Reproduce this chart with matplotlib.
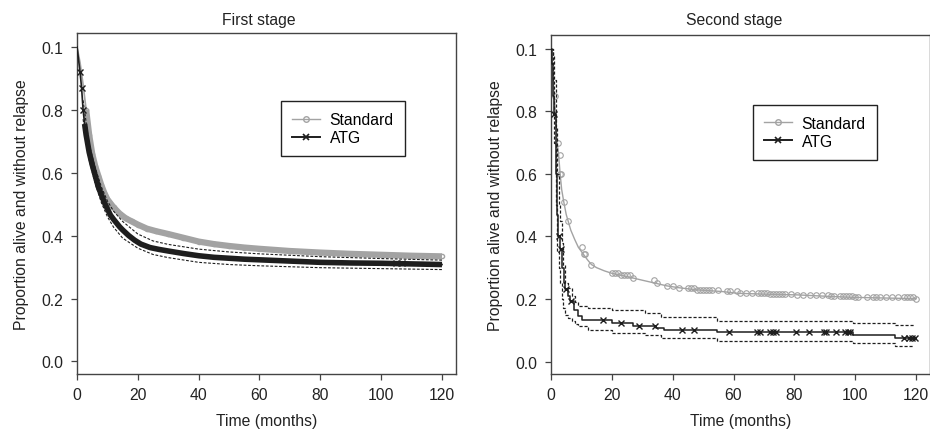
import numpy as np
import matplotlib
matplotlib.use('Agg')
import matplotlib.pyplot as plt
from matplotlib.lines import Line2D

plt.rcParams['font.family'] = ['Liberation Sans', 'DejaVu Sans']

GREY = '#a3a3a3'
DARK = '#1e1e1e'
FS = 11.3

# ---- first stage ----
t_std1 = [0, 1, 2, 3, 4, 5, 6, 7, 8, 9, 10, 12, 14, 16, 18, 20, 23, 26, 30, 35,
          40, 45, 50, 55, 60, 70, 80, 90, 100, 110, 120]
s_std1 = [1.0, 0.95, 0.88, 0.80, 0.72, 0.66, 0.62, 0.59, 0.56, 0.535, 0.515, 0.49,
          0.47, 0.455, 0.445, 0.435, 0.422, 0.414, 0.405, 0.393, 0.381, 0.373, 0.367,
          0.362, 0.358, 0.351, 0.346, 0.342, 0.339, 0.336, 0.334]

t_atg1 = [0, 0.5, 1, 1.5, 2, 2.5, 3, 4, 5, 6, 7, 8, 9, 10, 11, 12, 13, 14, 15, 17,
          19, 21, 24, 27, 30, 35, 40, 45, 50, 55, 60, 70, 80, 90, 100, 110, 120]
s_atg1 = [1.0, 0.96, 0.92, 0.87, 0.80, 0.755, 0.72, 0.665, 0.625, 0.59, 0.555, 0.53,
          0.505, 0.485, 0.465, 0.452, 0.44, 0.428, 0.418, 0.40, 0.385, 0.373, 0.362,
          0.356, 0.351, 0.343, 0.336, 0.331, 0.328, 0.325, 0.323, 0.319, 0.315, 0.313,
          0.312, 0.310, 0.308]

tb1 = [2, 4, 6, 8, 10, 12, 15, 20, 25, 30, 40, 50, 60, 80, 100, 120]
up_atg1 = [0.83, 0.69, 0.615, 0.555, 0.51, 0.478, 0.445, 0.405, 0.383, 0.372, 0.357,
           0.348, 0.342, 0.333, 0.327, 0.322]
lo_atg1 = [0.77, 0.64, 0.565, 0.505, 0.46, 0.427, 0.392, 0.36, 0.34, 0.33, 0.315,
           0.308, 0.304, 0.298, 0.295, 0.292]
cen_atg1 = [1.0, 1.5, 2.0, 105, 107]

# ---- second stage ----
t_std2 = [0, 0.5, 1.0, 1.5, 2.0, 2.5, 3.0, 3.5, 4.2, 5, 5.6, 6.5, 7.8, 9, 10.5, 12,
          13.3, 15, 17.5, 20, 23, 26.5, 30, 34.5, 38, 42, 48, 56, 61.5, 72, 81, 92,
          100, 120]
s_std2 = [1.0, 0.93, 0.85, 0.79, 0.70, 0.66, 0.60, 0.55, 0.51, 0.47, 0.45, 0.42, 0.39,
          0.365, 0.345, 0.325, 0.31, 0.30, 0.29, 0.282, 0.276, 0.268, 0.26, 0.25,
          0.242, 0.236, 0.229, 0.224, 0.218, 0.215, 0.213, 0.208, 0.205, 0.201]
cen_std2 = [1.4, 2.3, 2.8, 3.1, 3.3, 4.2, 5.6, 10.3, 10.8, 11.3, 13.3, 20, 21, 22, 23,
            24, 25, 26, 27, 34, 35, 38, 40, 42, 45, 46, 47, 48, 49, 50, 51, 52, 53,
            55, 58, 59, 61, 62, 64, 66, 68, 69, 70, 71, 72, 73, 74, 75, 76, 77, 79,
            81, 83, 85, 87, 89, 91, 92, 93, 95, 96, 97, 98, 99, 100, 101, 104, 106,
            107, 108, 110, 112, 114, 116, 117, 118, 119, 120]

t_atg2 = [0, 0.3, 0.6, 0.9, 1.5, 2.0, 2.4, 3.0, 3.6, 4.2, 4.6, 5.5, 6.2, 7.5, 9.0,
          10.1, 20, 27, 34.6, 37, 54.5, 99.4, 113, 120]
s_atg2 = [1.0, 0.95, 0.85, 0.79, 0.60, 0.47, 0.40, 0.36, 0.30, 0.25, 0.231, 0.21,
          0.194, 0.165, 0.146, 0.134, 0.123, 0.115, 0.108, 0.102, 0.0935, 0.085,
          0.075, 0.075]
cen_atg2 = [1.0, 2.6, 3.2, 4.9, 6.5, 17.1, 23.1, 28.8, 34.1, 43, 47, 58.4, 67.8,
            68.6, 72, 73, 74, 80.5, 84.9, 89.7, 90.3, 93.8, 96.8, 97.6, 98.2, 116,
            117.8, 118.7, 119.6]

tb2 = [0, 0.5, 1, 1.5, 2, 2.5, 3, 3.5, 4, 4.6, 5.5, 6.8, 8, 9, 12, 20, 31, 36, 54.5,
       99.4, 113, 119.5]
up_atg2 = [1.0, 0.98, 0.9, 0.75, 0.6, 0.5, 0.45, 0.38, 0.31, 0.25, 0.235, 0.21, 0.19,
           0.178, 0.172, 0.165, 0.155, 0.141, 0.130, 0.123, 0.117, 0.117]
lo_atg2 = [1.0, 0.9, 0.7, 0.5, 0.35, 0.3, 0.25, 0.2, 0.17, 0.15, 0.14, 0.13, 0.12,
           0.115, 0.1, 0.092, 0.085, 0.075, 0.067, 0.058, 0.049, 0.049]

yticks = [0.0, 0.2, 0.4, 0.6, 0.8, 1.0]
ytick_labels = ['0.0', '0.2', '0.4', '0.6', '0.8', '0.1']
xticks = [0, 20, 40, 60, 80, 100, 120]


def step_at(t, s, c):
    idx = np.searchsorted(t, c, side='right') - 1
    return np.asarray(s)[idx]


def style(ax):
    ax.set_xlim(0, 124.6)
    ax.set_ylim(-0.04, 1.044)
    ax.set_xticks(xticks)
    ax.set_yticks(yticks)
    ax.set_yticklabels(ytick_labels)
    for sp in ax.spines.values():
        sp.set_color('#444444')
        sp.set_linewidth(1.0)
    ax.tick_params(direction='out', length=4.3, width=0.9, color='#444444',
                   labelsize=FS, labelcolor='#222222')
    ax.tick_params(axis='y', pad=5.5)
    ax.tick_params(axis='x', pad=5)
    ax.set_xlabel('Time (months)', fontsize=FS, color='#222222', labelpad=8)
    ax.set_ylabel('Proportion alive and without relapse', fontsize=FS,
                  color='#222222', labelpad=9)
    handles = [Line2D([], [], color=GREY, lw=1, marker='o', mfc='none', ms=4),
               Line2D([], [], color=DARK, lw=1.4, marker='x', ms=4, mew=1.2)]
    return handles


def legend(ax, anchor):
    leg = ax.legend(handles, ['Standard', 'ATG'], loc='upper left',
                    bbox_to_anchor=anchor, fontsize=FS, frameon=True,
                    fancybox=False, edgecolor='#222222', framealpha=1,
                    borderpad=0.7, handlelength=1.8, handletextpad=0.6,
                    labelspacing=0.2, borderaxespad=0)
    leg.get_frame().set_linewidth(1.0)


fig = plt.figure(figsize=(9.3, 4.31), dpi=100)
ax1 = fig.add_axes([0.0828, 0.1299, 0.4075, 0.7912])
ax2 = fig.add_axes([0.5925, 0.1299, 0.4075, 0.7865])

# first stage
ax1.plot(t_std1[:4], s_std1[:4], color=GREY, lw=1.2, zorder=2)
ax1.plot(t_std1[3:], s_std1[3:], color=GREY, lw=4.5, solid_capstyle='butt', zorder=2)
ax1.plot(t_std1[3:], s_std1[3:], color=GREY, lw=0, marker='o', mfc='none', ms=3,
         zorder=2)
ax1.plot(tb1, up_atg1, color=DARK, lw=0.8, ls=(0, (2.5, 1.5)), zorder=3)
ax1.plot(tb1, lo_atg1, color=DARK, lw=0.8, ls=(0, (2.5, 1.5)), zorder=3)
ax1.plot(t_atg1, s_atg1, color=DARK, lw=1.2, zorder=4)
ax1.plot(t_atg1[5:], s_atg1[5:], color=DARK, lw=4.0, solid_capstyle='butt', zorder=4)
ax1.plot(cen_atg1, step_at(t_atg1, s_atg1, cen_atg1), ls='none', marker='x',
         color=DARK, ms=4, mew=1, zorder=5)
handles = style(ax1)
legend(ax1, (0.538, 0.80))
fig.text(259 / 930, 1 - 20 / 431, 'First stage', ha='center', va='center',
         fontsize=FS, color='#222222')

# second stage
ax2.plot(t_std2, s_std2, color=GREY, lw=1.0, zorder=2)
ax2.plot(cen_std2, step_at(t_std2, s_std2, cen_std2), ls='none', marker='o',
         mfc='none', mec=GREY, ms=4, mew=0.8, zorder=2)
ax2.step(tb2, up_atg2, where='post', color=DARK, lw=0.9, ls=(0, (2.5, 1.5)), zorder=3)
ax2.step(tb2, lo_atg2, where='post', color=DARK, lw=0.9, ls=(0, (2.5, 1.5)), zorder=3)
ax2.step(t_atg2, s_atg2, where='post', color=DARK, lw=1.1, zorder=4)
ax2.plot(cen_atg2, step_at(t_atg2, s_atg2, cen_atg2), ls='none', marker='x',
         color=DARK, ms=4, mew=1, zorder=5)
style(ax2)
legend(ax2, (0.533, 0.795))
fig.text(734 / 930, 1 - 20 / 431, 'Second stage', ha='center', va='center',
         fontsize=FS, color='#222222')

fig.savefig('out.png', dpi=100)
